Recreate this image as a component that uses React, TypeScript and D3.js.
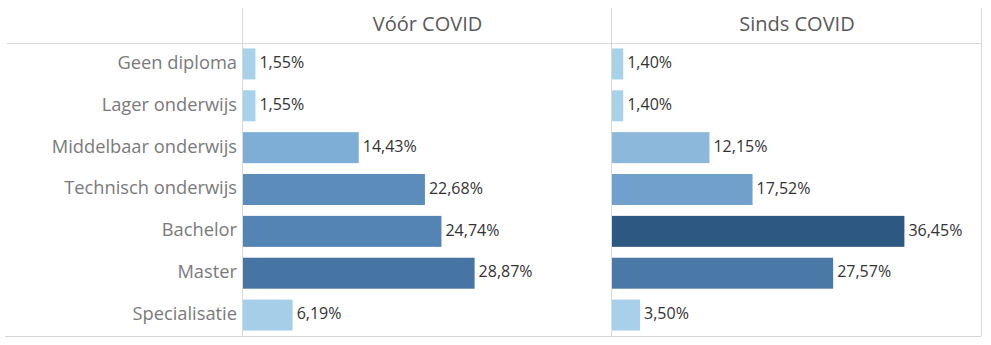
import React from "react";
import * as d3 from "d3";

const categories = [
  "Geen diploma",
  "Lager onderwijs",
  "Middelbaar onderwijs",
  "Technisch onderwijs",
  "Bachelor",
  "Master",
  "Specialisatie",
];
const panels = ["Vóór COVID", "Sinds COVID"];
const voorCovid = [1.55, 1.55, 14.43, 22.68, 24.74, 28.87, 6.19];
const sindsCovid = [1.4, 1.4, 12.15, 17.52, 36.45, 27.57, 3.5];

const W = 991;
const H = 345;
const left = 242;
const mid = 611;
const right = 981;
const top = 8;
const headerBottom = 43;
const bottom = 336;

const FONT = "'Open Sans', Lato, sans-serif";

export default function App() {
  const y = d3
    .scaleBand<string>()
    .domain(categories)
    .range([headerBottom, bottom])
    .paddingInner(0.26)
    .paddingOuter(0.13);
  const x = d3.scaleLinear().domain([0, 46]).range([0, mid - left]);
  const color = d3
    .scaleLinear<string>()
    .domain([0, 8, 15, 25, 37])
    .range(["#a9d2eb", "#a6cde8", "#7aaad3", "#5383b3", "#2a5680"])
    .clamp(true);
  const fmt = (v: number) => v.toFixed(2).replace(".", ",") + "%";
  const series = [voorCovid, sindsCovid];
  const x0s = [left + 1, mid + 1];

  return (
    <svg width={W} height={H} style={{ position: "absolute", left: 0, top: 0 }}>
      <rect width={W} height={H} fill="#fff" />
      {/* grid lines */}
      <line x1={7} x2={right} y1={headerBottom + 0.5} y2={headerBottom + 0.5} stroke="#d9d9d9" />
      <line x1={5} x2={right} y1={bottom + 0.5} y2={bottom + 0.5} stroke="#d4d4d4" />
      {[left, mid, right].map((lx) => (
        <line key={lx} x1={lx + 0.5} x2={lx + 0.5} y1={top} y2={bottom} stroke="#d9d9d9" />
      ))}
      {/* headers */}
      {panels.map((p, i) => (
        <text
          key={p}
          x={(i === 0 ? (left + mid) / 2 : (mid + right) / 2) + 1}
          y={26}
          textAnchor="middle"
          dominantBaseline="middle"
          fontFamily={FONT}
          fontSize={20}
          fill="#595959"
        >
          {p}
        </text>
      ))}
      {/* row labels */}
      {categories.map((c) => (
        <text
          key={c}
          x={237}
          y={(y(c) as number) + y.bandwidth() / 2}
          textAnchor="end"
          dominantBaseline="middle"
          fontFamily={FONT}
          fontSize={18.3}
          fill="#7a7a7a"
        >
          {c}
        </text>
      ))}
      {/* bars */}
      {series.map((vals, si) => (
        <g key={si} transform={`translate(${x0s[si]},0)`}>
          {vals.map((v, i) => {
            const yy = y(categories[i]) as number;
            return (
              <g key={i}>
                <rect x={0} y={yy} width={x(v)} height={y.bandwidth()} fill={color(v)} />
                <text
                  x={x(v) + 4}
                  y={yy + y.bandwidth() / 2}
                  dominantBaseline="middle"
                  fontFamily={FONT}
                  fontSize={16}
                  fill="#333"
                >
                  {fmt(v)}
                </text>
              </g>
            );
          })}
        </g>
      ))}
    </svg>
  );
}
